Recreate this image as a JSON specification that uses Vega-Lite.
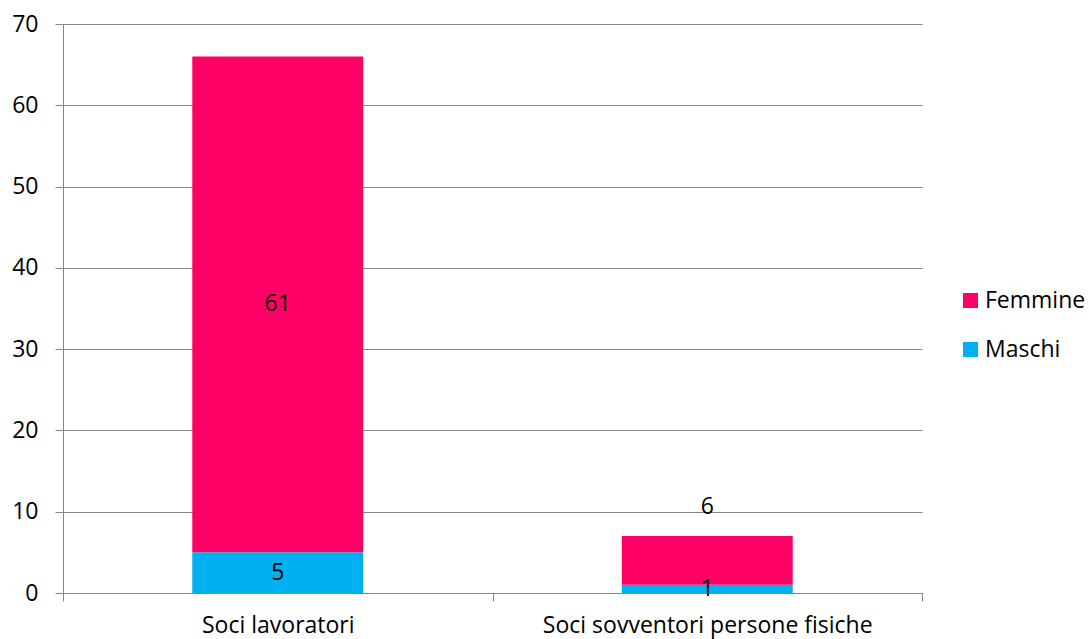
{
  "$schema": "https://vega.github.io/schema/vega-lite/v6.json",
  "width": 859,
  "height": 569,
  "autosize": {"type": "none"},
  "padding": {"left": 63, "top": 24, "right": 167, "bottom": 46},
  "background": "white",
  "config": {
    "view": {"stroke": null},
    "font": "Open Sans"
  },
  "data": {
    "values": [
      {"categoria": "Soci lavoratori", "sesso": "Maschi", "soci": 5},
      {"categoria": "Soci lavoratori", "sesso": "Femmine", "soci": 61},
      {"categoria": "Soci sovventori persone fisiche", "sesso": "Maschi", "soci": 1},
      {"categoria": "Soci sovventori persone fisiche", "sesso": "Femmine", "soci": 6}
    ]
  },
  "encoding": {
    "x": {
      "field": "categoria",
      "type": "nominal",
      "sort": null,
      "scale": {"paddingInner": 0, "paddingOuter": 0},
      "axis": {
        "title": null,
        "labelAngle": 0,
        "tickBand": "extent",
        "labelPadding": 13,
        "labelLimit": 0,
        "labelFont": "Open Sans",
        "labelFontSize": 23,
        "labelColor": "#000000",
        "domainColor": "#868686",
        "tickColor": "#868686",
        "tickSize": 8,
        "grid": false
      }
    },
    "y": {
      "field": "soci",
      "type": "quantitative",
      "stack": "zero",
      "scale": {"domain": [0, 70], "nice": false},
      "axis": {
        "title": null,
        "values": [0, 10, 20, 30, 40, 50, 60, 70],
        "grid": true,
        "gridColor": "#868686",
        "domainColor": "#868686",
        "tickColor": "#868686",
        "tickSize": 8,
        "labelPadding": 17,
        "labelFont": "Open Sans",
        "labelFontSize": 23,
        "labelColor": "#000000",
        "domain": true
      }
    },
    "order": {"field": "sesso", "sort": "descending"}
  },
  "layer": [
    {
      "mark": {"type": "bar", "width": {"band": 0.398}},
      "encoding": {
        "color": {
          "field": "sesso",
          "type": "nominal",
          "scale": {"domain": ["Femmine", "Maschi"], "range": ["#FF0066", "#00B0F0"]},
          "legend": {
            "title": null,
            "orient": "none",
            "legendX": 896,
            "legendY": 265,
            "symbolType": "square",
            "symbolSize": 225,
            "symbolStrokeWidth": 0,
            "labelFontSize": 23,
            "labelFont": "Open Sans",
            "labelColor": "#000000",
            "labelLimit": 200,
            "rowPadding": 25,
            "labelOffset": 3
          }
        }
      }
    },
    {
      "transform": [
        {"filter": "!(datum.categoria === 'Soci sovventori persone fisiche' && datum.sesso === 'Femmine')"}
      ],
      "mark": {"type": "text", "fontSize": 23, "font": "Open Sans", "color": "#000000", "baseline": "middle"},
      "encoding": {
        "y": {"field": "soci", "type": "quantitative", "stack": "zero", "bandPosition": 0.5},
        "text": {"field": "soci", "type": "quantitative"}
      }
    },
    {
      "transform": [
        {"stack": "soci", "groupby": ["categoria"], "sort": [{"field": "sesso", "order": "descending"}], "as": ["s0", "s1"]},
        {"filter": "datum.categoria === 'Soci sovventori persone fisiche' && datum.sesso === 'Femmine'"}
      ],
      "mark": {"type": "text", "fontSize": 23, "font": "Open Sans", "color": "#000000", "baseline": "middle", "dy": -29},
      "encoding": {
        "y": {"field": "s1", "type": "quantitative"},
        "text": {"field": "soci", "type": "quantitative"}
      }
    }
  ]
}
